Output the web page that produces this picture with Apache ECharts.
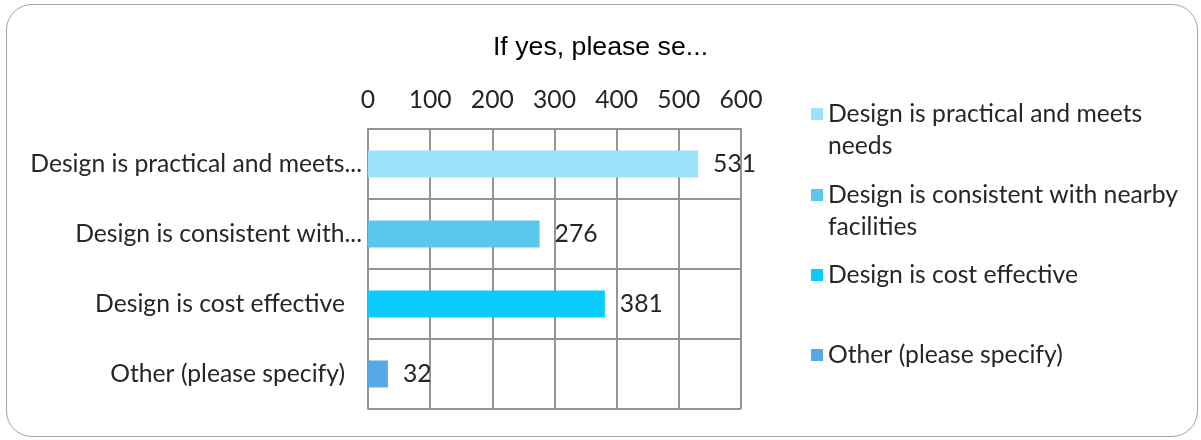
<!DOCTYPE html>
<html>
<head>
<meta charset="utf-8">
<script src="https://cdn.jsdelivr.net/npm/echarts@6/dist/echarts.min.js"></script>
<style>
  html, body { margin: 0; padding: 0; background: #fff; }
  #frame {
    position: absolute; left: 6px; top: 4px; width: 1192px; height: 433px;
    border: 1.5px solid #a6a6a6; border-radius: 26px; box-sizing: border-box;
  }
  #chart { position: absolute; left: 0; top: 0; width: 1201px; height: 440px; }
</style>
</head>
<body>
<div id="frame"></div>
<div id="chart"></div>
<script>
// categories as they show on the axis (truncated ones too)
const categories = ['Design is practical and meets...', 'Design is consistent with...', 'Design is cost effective', 'Other (please specify)'];
// legend names
const seriesNames = ['Design is practical and meets needs', 'Design is consistent with nearby facilities', 'Design is cost effective', 'Other (please specify)'];
const legendText = ['Design is practical and meets\nneeds', 'Design is consistent with nearby\nfacilities', 'Design is cost effective', 'Other (please specify)'];
const values = [531, 276, 381, 32];
const colors = ['#9be3fa', '#5ac7ec', '#0acbfc', '#56a9e5'];
const xTicks = [0, 100, 200, 300, 400, 500, 600];

const font = 'Lato';
const fs = 24.7;
const textColor = '#262626';
const gridColor = '#959595';

const chart = echarts.init(document.getElementById('chart'));

const seriesList = [];
const legends = [];
const legendTops = [66, 147, 259, 339];
seriesNames.forEach(function (name, i) {
  const data = categories.map(function (c, j) { return j === i ? values[i] : '-'; });
  seriesList.push({
    type: 'bar',
    name: name,
    stack: 'all',
    data: data,
    barWidth: 27,
    itemStyle: { color: colors[i] },
    label: {
      show: true,
      position: 'right',
      distance: 15,
      fontFamily: font,
      fontSize: fs,
      color: textColor
    }
  });
  // two-line items get an empty first line so the icon sits by the first text line
  const twoLines = legendText[i].indexOf('\n') >= 0;
  legends.push({
    data: [name],
    left: 811,
    top: legendTops[i],
    padding: 0,
    itemWidth: 12,
    itemHeight: 12,
    icon: 'rect',
    selectedMode: false,
    formatter: function () { return twoLines ? '\u00a0\n' + legendText[i] : legendText[i]; },
    textStyle: {
      fontFamily: font,
      fontSize: fs,
      color: textColor,
      lineHeight: 32
    }
  });
});

const option = {
  animation: false,
  title: {
    text: 'If yes, please se...',
    left: 'center',
    top: 29,
    textStyle: { fontFamily: 'Liberation Sans', fontSize: 26.7, fontWeight: 'normal', color: '#000' }
  },
  legend: legends,
  grid: { left: 368, right: 460, top: 129, bottom: 31, containLabel: false },
  xAxis: {
    type: 'value',
    position: 'top',
    min: xTicks[0],
    max: xTicks[xTicks.length - 1],
    interval: 100,
    axisLine: { show: true, lineStyle: { color: gridColor, width: 2 } },
    axisTick: { show: false },
    axisLabel: { fontFamily: font, fontSize: fs, color: textColor, margin: 16 },
    splitLine: { show: true, lineStyle: { color: gridColor, width: 2 } }
  },
  yAxis: {
    type: 'category',
    inverse: true,
    data: categories,
    axisLine: { show: true, lineStyle: { color: gridColor, width: 2 } },
    axisTick: { show: false },
    axisLabel: {
      fontFamily: font, fontSize: fs, color: textColor, margin: 6,
      formatter: function (v) {
        return v.slice(-3) === '...' ? v : '{p|' + v + '}';
      },
      rich: { p: { fontFamily: font, fontSize: fs, color: textColor, padding: [0, 17, 0, 0] } }
    },
    splitLine: { show: true, lineStyle: { color: gridColor, width: 2 } }
  },
  series: seriesList
};
chart.setOption(option);
</script>
</body>
</html>
